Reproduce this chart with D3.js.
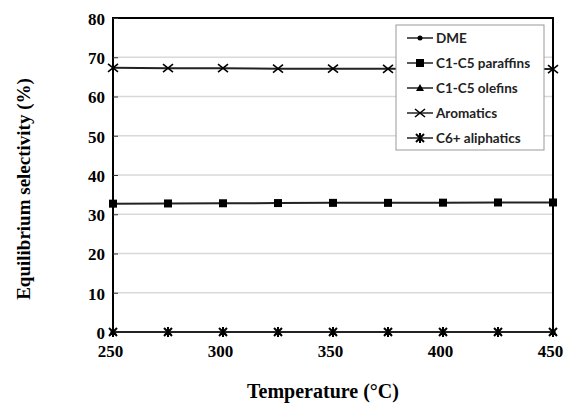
<!DOCTYPE html>
<html>
<head>
<meta charset="utf-8">
<script src="https://cdn.jsdelivr.net/npm/d3@7"></script>
<style>
body { margin: 0; background: #fff; }
</style>
</head>
<body>
<div id="chart"></div>
<script>
// data
var temps = [250, 275, 300, 325, 350, 375, 400, 425, 450]
var dme = [0, 0, 0, 0, 0, 0, 0, 0, 0]
var paraffins = [32.7, 32.75, 32.8, 32.85, 32.9, 32.9, 32.95, 33.0, 33.0]
var olefins = [0, 0, 0, 0, 0, 0, 0, 0, 0]
var aromatics = [67.3, 67.2, 67.2, 67.1, 67.1, 67.05, 67.0, 67.0, 67.0]
var aliphatics = [0, 0, 0, 0, 0, 0, 0, 0, 0]
var seriesNames = ["DME", "C1-C5 paraffins", "C1-C5 olefins", "Aromatics", "C6+ aliphatics"]
var xTicks = [250, 300, 350, 400, 450]
var yTicks = [0, 10, 20, 30, 40, 50, 60, 70, 80]

var series = [
    {name: seriesNames[0], vals: dme, mark: "dot"},
    {name: seriesNames[1], vals: paraffins, mark: "square"},
    {name: seriesNames[2], vals: olefins, mark: "triangle"},
    {name: seriesNames[3], vals: aromatics, mark: "x"},
    {name: seriesNames[4], vals: aliphatics, mark: "star"}
]

var w = 564, h = 403
var pl = 113, pr = 553, pt = 18, pb = 332

var svg = d3.select("#chart").append("svg")
    .attr("width", w)
    .attr("height", h)

var x = d3.scaleLinear().domain([250, 450]).range([pl, pr])
var y = d3.scaleLinear().domain([0, 80]).range([pb, pt])

// gridlines
svg.append("g").selectAll("line")
    .data(yTicks.slice(1, -1))
    .enter().append("line")
    .attr("x1", pl).attr("x2", pr)
    .attr("y1", function(d) {return y(d)})
    .attr("y2", function(d) {return y(d)})
    .style("stroke", "#d9d9d9")
    .style("stroke-width", 1.5)

// frame
svg.append("rect")
    .attr("x", pl).attr("y", pt)
    .attr("width", pr - pl).attr("height", pb - pt)
    .style("fill", "none")
    .style("stroke", "#000")
    .style("stroke-width", 2)

var yAxis = svg.append("g")
    .attr("transform", "translate(" + pl + ",0)")
    .call(d3.axisLeft(y).tickValues(yTicks).tickSizeInner(-5).tickSizeOuter(0).tickPadding(8))
yAxis.select(".domain").remove()
yAxis.selectAll("text")
    .style("font-family", "Liberation Serif, serif")
    .style("font-weight", "bold")
    .style("font-size", "17px")
    .attr("x", -8)
    .attr("dy", "0.38em")
yAxis.selectAll("line").style("stroke", "#333")

var xAxis = svg.append("g")
    .attr("transform", "translate(0," + pb + ")")
    .call(d3.axisBottom(x).tickValues(xTicks).tickSize(0).tickPadding(13))
xAxis.select(".domain").remove()
xAxis.selectAll("text")
    .style("font-family", "Liberation Serif, serif")
    .style("font-weight", "bold")
    .style("font-size", "17px")
    .attr("dx", "-3")

// marker drawing
function drawMark(g, type, cx, cy) {
    if (type == "dot") {
        g.append("circle").attr("cx", cx).attr("cy", cy).attr("r", 2.5).style("fill", "#000")
    } else if (type == "square") {
        g.append("rect").attr("x", cx - 4).attr("y", cy - 4).attr("width", 8).attr("height", 8).style("fill", "#000")
    } else if (type == "triangle") {
        g.append("path").attr("d", "M" + cx + " " + (cy - 4) + " L" + (cx + 4) + " " + (cy + 3) + " L" + (cx - 4) + " " + (cy + 3) + " Z").style("fill", "#000")
    } else if (type == "x") {
        g.append("path").attr("d", "M" + (cx - 5) + " " + (cy - 4) + " L" + (cx + 5) + " " + (cy + 4) + " M" + (cx - 5) + " " + (cy + 4) + " L" + (cx + 5) + " " + (cy - 4))
            .style("stroke", "#000").style("stroke-width", 1.6)
    } else if (type == "star") {
        g.append("path").attr("d", "M" + (cx - 4) + " " + (cy - 4) + " L" + (cx + 4) + " " + (cy + 4) + " M" + (cx - 4) + " " + (cy + 4) + " L" + (cx + 4) + " " + (cy - 4) + " M" + cx + " " + (cy - 5) + " L" + cx + " " + (cy + 5))
            .style("stroke", "#000").style("stroke-width", 2)
    }
}

var line = d3.line()
    .x(function(d) {return x(d[0])})
    .y(function(d) {return y(d[1])})

series.forEach(function(s) {
    var pts = temps.map(function(t, i) {return [t, s.vals[i]]})
    var g = svg.append("g")
    g.append("path")
        .attr("d", line(pts))
        .style("fill", "none")
        .style("stroke", "#222")
        .style("stroke-width", 2)
    pts.forEach(function(p) {
        drawMark(g, s.mark, x(p[0]), y(p[1]))
    })
})

// legend
var lg = svg.append("g")
lg.append("rect")
    .attr("x", 396).attr("y", 25)
    .attr("width", 148).attr("height", 125)
    .style("fill", "#fff")
    .style("stroke", "#999")
    .style("stroke-width", 1)

series.forEach(function(s, i) {
    var ly = 38 + i * 25
    lg.append("line")
        .attr("x1", 407).attr("x2", 433)
        .attr("y1", ly).attr("y2", ly)
        .style("stroke", "#222").style("stroke-width", 1.5)
    drawMark(lg, s.mark, 420, ly)
    lg.append("text")
        .attr("x", 436).attr("y", ly + 5)
        .text(s.name)
        .style("font-family", "Lato, sans-serif")
        .style("font-weight", "bold")
        .style("font-size", "13.5px")
        .style("fill", "#222")
})

// axis titles
svg.append("text")
    .attr("transform", "translate(30,189) rotate(-90)")
    .attr("text-anchor", "middle")
    .text("Equilibrium selectivity (%)")
    .style("font-family", "Liberation Serif, serif")
    .style("font-weight", "bold")
    .style("font-size", "19px")

svg.append("text")
    .attr("x", 323).attr("y", 398)
    .attr("text-anchor", "middle")
    .text("Temperature (°C)")
    .style("font-family", "Liberation Serif, serif")
    .style("font-weight", "bold")
    .style("font-size", "20px")
</script>
</body>
</html>
